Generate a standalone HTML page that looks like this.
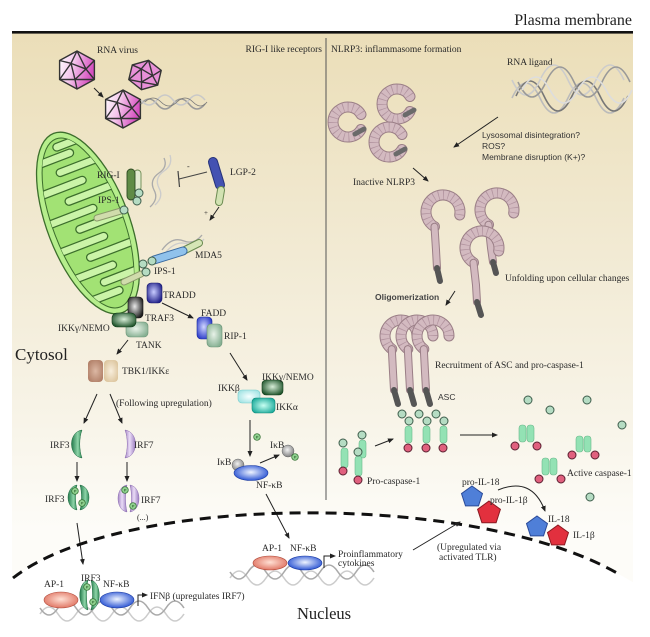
<!DOCTYPE html>
<html><head><meta charset="utf-8"><style>
html,body{margin:0;padding:0;background:#fff;}
svg{display:block;}
text{font-family:"Liberation Serif",serif;fill:#2a2a2a;font-size:9.5px;}
.s{font-family:"Liberation Sans",sans-serif;font-size:8.5px;fill:#333;}
.ar{stroke:#222;stroke-width:1;fill:none;marker-end:url(#ah);}
.nlo{fill:none;stroke:#9a7e86;stroke-width:11;stroke-linecap:round;}
.nli{fill:none;stroke:#d3bac0;stroke-width:9;stroke-linecap:round;}
.nld{fill:none;stroke:#b395a0;stroke-width:9;stroke-dasharray:0.8 4;}
.sto{fill:none;stroke:#9a7e86;stroke-width:8;stroke-linecap:round;stroke-linejoin:round;}
.sti{fill:none;stroke:#d3bac0;stroke-width:6;stroke-linecap:round;stroke-linejoin:round;}
.tail{stroke:#555;stroke-width:6;stroke-linecap:round;}
.gc{fill:#b5dcc3;stroke:#3d5c4a;stroke-width:1;}
.rc{fill:#e0607e;stroke:#5a2030;stroke-width:1;}
.bar{fill:#93e2b4;stroke:#6ab88a;stroke-width:0.6;}
.pc{fill:#8fd08f;stroke:#2a6a2a;stroke-width:0.7;}
.pt{font-family:"Liberation Sans",sans-serif;font-size:4px;fill:#1a4a1a;}
.dna{fill:none;stroke:#aaa;stroke-width:1.6;}
.dna2{fill:none;stroke:#ccc;stroke-width:1.6;}
</style></head><body>
<svg width="650" height="637" viewBox="0 0 650 637" xmlns="http://www.w3.org/2000/svg">
<defs>
<marker id="ah" markerWidth="6" markerHeight="6" refX="5" refY="3" orient="auto" markerUnits="userSpaceOnUse"><path d="M0,0.5 L6,3 L0,5.5 z" fill="#222"/></marker>
<linearGradient id="bg" x1="0" y1="32" x2="0" y2="530" gradientUnits="userSpaceOnUse">
<stop offset="0" stop-color="#ebdeb8"/><stop offset="0.4" stop-color="#f1e9d1"/><stop offset="0.75" stop-color="#f7f3e6"/><stop offset="1" stop-color="#fdfcf8"/></linearGradient>
<radialGradient id="gNavy" cx="0.45" cy="0.45" r="0.6"><stop offset="0" stop-color="#c8ccff"/><stop offset="1" stop-color="#22228a"/></radialGradient>
<radialGradient id="gBlack" cx="0.45" cy="0.45" r="0.6"><stop offset="0" stop-color="#e8e8e8"/><stop offset="1" stop-color="#1e1e1e"/></radialGradient>
<radialGradient id="gDk" cx="0.5" cy="0.45" r="0.6"><stop offset="0" stop-color="#d8eed8"/><stop offset="1" stop-color="#1c5228"/></radialGradient>
<radialGradient id="gLt" cx="0.45" cy="0.45" r="0.6"><stop offset="0" stop-color="#e8f2e8"/><stop offset="1" stop-color="#86b092"/></radialGradient>
<radialGradient id="gBlue" cx="0.45" cy="0.45" r="0.6"><stop offset="0" stop-color="#d0d6ff"/><stop offset="1" stop-color="#2838c8"/></radialGradient>
<radialGradient id="gCy" cx="0.5" cy="0.5" r="0.6"><stop offset="0" stop-color="#f6ffff"/><stop offset="1" stop-color="#9ee2e2"/></radialGradient>
<radialGradient id="gTeal" cx="0.5" cy="0.5" r="0.6"><stop offset="0" stop-color="#c8fff2"/><stop offset="1" stop-color="#17a898"/></radialGradient>
<radialGradient id="gSal" cx="0.5" cy="0.45" r="0.6"><stop offset="0" stop-color="#ffe0d4"/><stop offset="1" stop-color="#de6e5c"/></radialGradient>
<radialGradient id="gNF" cx="0.5" cy="0.45" r="0.6"><stop offset="0" stop-color="#eef4ff"/><stop offset="1" stop-color="#1c48d0"/></radialGradient>
<radialGradient id="gGray" cx="0.45" cy="0.4" r="0.6"><stop offset="0" stop-color="#f2f2f2"/><stop offset="1" stop-color="#808080"/></radialGradient>
<radialGradient id="gBrown" cx="0.5" cy="0.5" r="0.6"><stop offset="0" stop-color="#dcb8a4"/><stop offset="1" stop-color="#b07e66"/></radialGradient>
<radialGradient id="gBeige" cx="0.5" cy="0.5" r="0.6"><stop offset="0" stop-color="#f8eedc"/><stop offset="1" stop-color="#dcc49c"/></radialGradient>
<linearGradient id="gIrf3" x1="0" y1="0" x2="1" y2="0"><stop offset="0" stop-color="#237a4c"/><stop offset="0.6" stop-color="#8ed4a8"/><stop offset="1" stop-color="#2f8a58"/></linearGradient>
<linearGradient id="gIrf7" x1="0" y1="0" x2="1" y2="0"><stop offset="0" stop-color="#a486c4"/><stop offset="0.45" stop-color="#eadcf6"/><stop offset="1" stop-color="#9a7cc0"/></linearGradient>
<linearGradient id="gVir" x1="0" y1="0" x2="1" y2="0.3"><stop offset="0" stop-color="#ffffff"/><stop offset="0.45" stop-color="#f4c8ec"/><stop offset="1" stop-color="#d650c0"/></linearGradient>
<clipPath id="mclip"><ellipse cx="0" cy="0" rx="35" ry="90"/></clipPath>
</defs>

<!-- background panel -->
<rect x="12" y="32" width="621" height="605" fill="url(#bg)"/>
<path d="M0 637 L0 578 L13 578 C120 494 470 490 617 573 L650 592 L650 637 Z" fill="#ffffff"/>
<rect x="12" y="31" width="621" height="2.6" fill="#111"/>
<line x1="326" y1="38" x2="326" y2="500" stroke="#555" stroke-width="1"/>
<text x="632" y="25" text-anchor="end" style="font-size:16px;fill:#222">Plasma membrane</text>

<!-- viruses -->
<g stroke="#333" stroke-width="1.4" stroke-linejoin="round">
<g transform="translate(77,70) scale(20,19)">
<polygon points="0,-1 0.87,-0.5 0.87,0.5 0,1 -0.87,0.5 -0.87,-0.5" fill="url(#gVir)" vector-effect="non-scaling-stroke"/>
<path d="M-0.3,-0.35 L0.45,-0.05 L-0.1,0.5 Z M0,-1 L-0.3,-0.35 M0,-1 L0.45,-0.05 M0.87,-0.5 L0.45,-0.05 M0.87,0.5 L0.45,-0.05 M0.87,0.5 L-0.1,0.5 M0,1 L-0.1,0.5 M-0.87,0.5 L-0.1,0.5 M-0.87,0.5 L-0.3,-0.35 M-0.87,-0.5 L-0.3,-0.35" fill="none" vector-effect="non-scaling-stroke"/>
</g>
<g transform="translate(145,75) scale(17,15) rotate(12)">
<polygon points="0,-1 0.87,-0.5 0.87,0.5 0,1 -0.87,0.5 -0.87,-0.5" fill="#e890d8" vector-effect="non-scaling-stroke"/>
<path d="M-0.3,-0.35 L0.45,-0.05 L-0.1,0.5 Z M0,-1 L-0.3,-0.35 M0,-1 L0.45,-0.05 M0.87,-0.5 L0.45,-0.05 M0.87,0.5 L0.45,-0.05 M0.87,0.5 L-0.1,0.5 M0,1 L-0.1,0.5 M-0.87,0.5 L-0.1,0.5 M-0.87,0.5 L-0.3,-0.35 M-0.87,-0.5 L-0.3,-0.35" fill="none" vector-effect="non-scaling-stroke"/>
</g>
<g transform="translate(123,109) scale(20,19)">
<polygon points="0,-1 0.87,-0.5 0.87,0.5 0,1 -0.87,0.5 -0.87,-0.5" fill="url(#gVir)" vector-effect="non-scaling-stroke"/>
<path d="M-0.3,-0.35 L0.45,-0.05 L-0.1,0.5 Z M0,-1 L-0.3,-0.35 M0,-1 L0.45,-0.05 M0.87,-0.5 L0.45,-0.05 M0.87,0.5 L0.45,-0.05 M0.87,0.5 L-0.1,0.5 M0,1 L-0.1,0.5 M-0.87,0.5 L-0.1,0.5 M-0.87,0.5 L-0.3,-0.35 M-0.87,-0.5 L-0.3,-0.35" fill="none" vector-effect="non-scaling-stroke"/>
</g>
</g>
<line class="ar" x1="94" y1="88" x2="103" y2="97"/>
<path d="M141 104 q8 -10 16 0 t16 0 t16 0 t16 0" fill="none" stroke="#999" stroke-width="1.5"/>
<path d="M141 100 q8 10 16 0 t16 0 t16 0 t16 0" fill="none" stroke="#c8c8c8" stroke-width="1.5"/>
<path d="M145 102 q8 -8 16 0 t16 0 t16 0 t14 0" fill="none" stroke="#777" stroke-width="0.8"/>
<text x="97" y="53">RNA virus</text>
<text x="322" y="52" text-anchor="end">RIG-I like receptors</text>

<!-- mitochondrion -->
<g transform="translate(88,223) rotate(-21)">
<ellipse cx="0" cy="0" rx="41" ry="96" fill="#b6ee8c" stroke="#3c6e2c" stroke-width="1.3"/>
<ellipse cx="0" cy="0" rx="35" ry="90" fill="#a2e274" stroke="#3c6e2c" stroke-width="1"/>
<g clip-path="url(#mclip)">
<g stroke="#3c6e2c" stroke-width="9" stroke-linecap="round" fill="none">
<path d="M-45 -72 L8 -72 M-45 -42 L10 -42 M-45 -12 L10 -12 M-45 18 L10 18 M-45 48 L8 48 M-45 74 L5 74"/>
<path d="M45 -57 L-8 -57 M45 -27 L-10 -27 M45 3 L-10 3 M45 33 L-10 33 M45 61 L-6 61 M45 -82 L-2 -82"/>
</g>
<g stroke="#cbf4a8" stroke-width="6.5" stroke-linecap="round" fill="none">
<path d="M-45 -72 L8 -72 M-45 -42 L10 -42 M-45 -12 L10 -12 M-45 18 L10 18 M-45 48 L8 48 M-45 74 L5 74"/>
<path d="M45 -57 L-8 -57 M45 -27 L-10 -27 M45 3 L-10 3 M45 33 L-10 33 M45 61 L-6 61 M45 -82 L-2 -82"/>
</g>
</g>
</g>

<!-- RIG-I -->
<path d="M150 207 q9 -8 4 -17 q-5 -10 5 -17 q9 -6 5 -15" fill="none" stroke="#aaa" stroke-width="1.3"/>
<path d="M155 205 q9 -8 4 -17 q-5 -10 5 -17 q9 -6 6 -16" fill="none" stroke="#ccc" stroke-width="1.3"/>
<rect x="134" y="170" width="7" height="21" rx="3.5" fill="#e2ead0" stroke="#6a8a50" stroke-width="0.9"/>
<rect x="127" y="169" width="8" height="31" rx="4" fill="#5f8b46" stroke="#2e4a22" stroke-width="0.9"/>
<circle class="gc" cx="139" cy="193" r="4"/>
<circle class="gc" cx="137" cy="201" r="4"/>
<line x1="97" y1="218" x2="121" y2="211" stroke="#8a9a6a" stroke-width="7" stroke-linecap="round"/>
<line x1="97" y1="218" x2="121" y2="211" stroke="#d0dcac" stroke-width="5" stroke-linecap="round"/>
<circle class="gc" cx="124" cy="210" r="4"/>
<text x="97" y="178">RIG-I</text>
<text x="98" y="203">IPS-1</text>
<!-- inhibition -->
<line x1="207" y1="172" x2="179" y2="179" stroke="#444" stroke-width="1"/>
<line x1="178" y1="171" x2="179.5" y2="187" stroke="#444" stroke-width="1.2"/>
<text x="187" y="169" style="font-size:8px">-</text>
<!-- LGP-2 -->
<line x1="213" y1="162" x2="220" y2="185" stroke="#26337a" stroke-width="10" stroke-linecap="round"/>
<line x1="213" y1="162" x2="220" y2="185" stroke="#4452b2" stroke-width="8" stroke-linecap="round"/>
<line x1="221" y1="190" x2="219" y2="202" stroke="#6a8a50" stroke-width="8" stroke-linecap="round"/>
<line x1="221" y1="190" x2="219" y2="202" stroke="#d2e2b2" stroke-width="6" stroke-linecap="round"/>
<line class="ar" x1="219" y1="207" x2="210" y2="220"/>
<text x="204" y="215" style="font-size:7px">+</text>
<text x="230" y="175">LGP-2</text>
<!-- MDA5 -->
<path d="M162 250 q10 -14 22 -9 q10 4 18 -6" fill="none" stroke="#aaa" stroke-width="1.3"/>
<path d="M166 252 q10 -12 22 -8 q10 3 16 -5" fill="none" stroke="#ccc" stroke-width="1.3"/>
<line x1="185" y1="250" x2="199" y2="243" stroke="#6a8a50" stroke-width="8" stroke-linecap="round"/>
<line x1="185" y1="250" x2="199" y2="243" stroke="#d6e6b6" stroke-width="6" stroke-linecap="round"/>
<line x1="154" y1="260" x2="183" y2="251" stroke="#3a6aa0" stroke-width="9" stroke-linecap="round"/>
<line x1="154" y1="260" x2="183" y2="251" stroke="#90c2ec" stroke-width="7" stroke-linecap="round"/>
<text x="195" y="258">MDA5</text>
<line x1="124" y1="282" x2="141" y2="274" stroke="#8a9a6a" stroke-width="7" stroke-linecap="round"/>
<line x1="124" y1="282" x2="141" y2="274" stroke="#d0dcac" stroke-width="5" stroke-linecap="round"/>
<circle class="gc" cx="143" cy="264" r="4"/>
<circle class="gc" cx="152" cy="261" r="4"/>
<circle class="gc" cx="146" cy="272" r="4"/>
<text x="154" y="274">IPS-1</text>

<!-- adaptor complex -->
<rect x="147" y="283" width="15" height="20" rx="4" fill="url(#gNavy)" stroke="#1a1a6a" stroke-width="0.6"/>
<text x="163" y="298">TRADD</text>
<rect x="128" y="297" width="15" height="21" rx="4" fill="url(#gBlack)" stroke="#111" stroke-width="0.6"/>
<text x="145" y="321">TRAF3</text>
<rect x="126" y="322" width="22" height="15" rx="4" fill="url(#gLt)" stroke="#6a9276" stroke-width="0.6"/>
<rect x="112" y="313" width="24" height="14" rx="5" fill="url(#gDk)" stroke="#123a1a" stroke-width="0.6"/>
<text x="58" y="331">IKKγ/NEMO</text>
<text x="136" y="348">TANK</text>
<line class="ar" x1="162" y1="303" x2="193" y2="318"/>
<rect x="197" y="317" width="15" height="22" rx="4" fill="url(#gBlue)" stroke="#1a2a9a" stroke-width="0.6"/>
<rect x="207" y="324" width="15" height="23" rx="4" fill="url(#gLt)" stroke="#6a9276" stroke-width="0.6"/>
<text x="201" y="316">FADD</text>
<text x="224" y="339">RIP-1</text>
<text x="15" y="360" style="font-size:17px;fill:#222">Cytosol</text>
<line class="ar" x1="128" y1="340" x2="117" y2="354"/>
<rect x="88" y="360" width="15" height="22" rx="4" fill="url(#gBrown)"/>
<rect x="104" y="360" width="14" height="22" rx="4" fill="url(#gBeige)"/>
<text x="122" y="374">TBK1/IKKε</text>
<line class="ar" x1="230" y1="353" x2="247" y2="380"/>
<rect x="238" y="390" width="22" height="13" rx="4" fill="url(#gCy)" stroke="#7cc" stroke-width="0.6"/>
<rect x="262" y="380" width="21" height="15" rx="4" fill="url(#gDk)" stroke="#123a1a" stroke-width="0.6"/>
<rect x="252" y="398" width="23" height="15" rx="4" fill="url(#gTeal)" stroke="#108878" stroke-width="0.6"/>
<text x="262" y="380">IKKγ/NEMO</text>
<text x="218" y="391">IKKβ</text>
<text x="276" y="410">IKKα</text>

<!-- IRFs -->
<line class="ar" x1="97" y1="394" x2="84" y2="423"/>
<line class="ar" x1="110" y1="394" x2="122" y2="423"/>
<text x="116" y="406">(Following upregulation)</text>
<path d="M82 430 C68 432 68 456 82 458 C79 450 79 438 82 430 Z" fill="url(#gIrf3)" stroke="#1e6a40" stroke-width="0.5"/>
<path d="M125 430 C139 432 139 456 125 458 C128 450 128 438 125 430 Z" fill="url(#gIrf7)" stroke="#8a6ab0" stroke-width="0.5"/>
<text x="50" y="448">IRF3</text>
<text x="134" y="448">IRF7</text>
<line class="ar" x1="77" y1="462" x2="77" y2="481"/>
<line class="ar" x1="127" y1="462" x2="127" y2="481"/>
<path d="M77 485 C65 487 65 508 77 510 C75 503 75 492 77 485 Z" fill="url(#gIrf3)" stroke="#1e6a40" stroke-width="0.5"/>
<path d="M80 485 C92 487 92 508 80 510 C82 503 82 492 80 485 Z" fill="url(#gIrf3)" stroke="#1e6a40" stroke-width="0.5"/>
<circle class="pc" cx="75" cy="491" r="3.3"/><text class="pt" x="73.7" y="492.5">P</text>
<circle class="pc" cx="82" cy="503" r="3.3"/><text class="pt" x="80.7" y="504.5">P</text>
<path d="M127 485 C115 487 115 510 127 512 C125 504 125 493 127 485 Z" fill="url(#gIrf7)" stroke="#8a6ab0" stroke-width="0.5"/>
<path d="M130 485 C142 487 142 510 130 512 C132 504 132 493 130 485 Z" fill="url(#gIrf7)" stroke="#8a6ab0" stroke-width="0.5"/>
<circle class="pc" cx="125" cy="490" r="3.3"/><text class="pt" x="123.7" y="491.5">P</text>
<circle class="pc" cx="133" cy="506" r="3.3"/><text class="pt" x="131.7" y="507.5">P</text>
<text x="45" y="502">IRF3</text>
<text x="141" y="503">IRF7</text>
<text x="137" y="520" style="font-size:8px">(...)</text>
<line class="ar" x1="77" y1="523" x2="83" y2="564"/>

<!-- IkB / NF-kB -->
<line class="ar" x1="250" y1="420" x2="250" y2="456"/>
<circle class="pc" cx="257" cy="437" r="3.3"/><text class="pt" x="255.7" y="438.5">P</text>
<text x="270" y="448">IκB</text>
<circle cx="288" cy="451" r="6" fill="url(#gGray)" stroke="#666" stroke-width="0.5"/>
<circle class="pc" cx="295" cy="457" r="3.3"/><text class="pt" x="293.7" y="458.5">P</text>
<line class="ar" x1="260" y1="463" x2="279" y2="455"/>
<circle cx="238" cy="465" r="6" fill="url(#gGray)" stroke="#666" stroke-width="0.5"/>
<ellipse cx="251" cy="473" rx="17" ry="7.5" fill="url(#gNF)" stroke="#1a3aa0" stroke-width="0.6"/>
<text x="217" y="465">IκB</text>
<text x="256" y="488">NF-κB</text>
<line class="ar" x1="266" y1="494" x2="289" y2="538"/>

<!-- nucleus membrane -->
<path d="M13 578 C120 494 470 490 617 573" fill="none" stroke="#111" stroke-width="3" stroke-dasharray="11 7"/>
<text x="297" y="619" style="font-size:16.5px;fill:#222">Nucleus</text>

<!-- nuclear complex 1 -->
<path class="dna2" d="M40 614 q9 -14 18 0 t18 0 t18 0 t18 0 t18 0 t18 0 t18 0 t18 0"/>
<path class="dna" d="M40 608 q9 14 18 0 t18 0 t18 0 t18 0 t18 0 t18 0 t18 0 t18 0"/>
<ellipse cx="61" cy="600" rx="17" ry="8" fill="url(#gSal)" stroke="#b04a3a" stroke-width="0.6"/>
<path d="M88 580 C77 583 77 607 88 610 C86 602 86 588 88 580 Z" fill="url(#gIrf3)" stroke="#1e6a40" stroke-width="0.5"/>
<path d="M91 580 C102 583 102 607 91 610 C93 602 93 588 91 580 Z" fill="url(#gIrf3)" stroke="#1e6a40" stroke-width="0.5"/>
<circle class="pc" cx="87" cy="587" r="3.3"/><text class="pt" x="85.7" y="588.5">P</text>
<circle class="pc" cx="93" cy="602" r="3.3"/><text class="pt" x="91.7" y="603.5">P</text>
<ellipse cx="117" cy="600" rx="17" ry="8" fill="url(#gNF)" stroke="#1a3aa0" stroke-width="0.6"/>
<path d="M138 606 L138 595 L147 595" fill="none" stroke="#222" stroke-width="1" marker-end="url(#ah)"/>
<text x="44" y="587">AP-1</text>
<text x="81" y="581">IRF3</text>
<text x="103" y="587">NF-κB</text>
<text x="150" y="599">IFNβ (upregulates IRF7)</text>

<!-- nuclear complex 2 -->
<path class="dna2" d="M230 578 q9 -14 18 0 t18 0 t18 0 t18 0 t18 0 t18 0 t18 0 t18 0"/>
<path class="dna" d="M230 572 q9 14 18 0 t18 0 t18 0 t18 0 t18 0 t18 0 t18 0 t18 0"/>
<ellipse cx="270" cy="563" rx="17" ry="7" fill="url(#gSal)" stroke="#b04a3a" stroke-width="0.6"/>
<ellipse cx="305" cy="563" rx="17" ry="7" fill="url(#gNF)" stroke="#1a3aa0" stroke-width="0.6"/>
<path d="M324 568 L324 556 L335 556" fill="none" stroke="#222" stroke-width="1" marker-end="url(#ah)"/>
<text x="262" y="551">AP-1</text>
<text x="290" y="551">NF-κB</text>
<text x="338" y="557">Proinflammatory</text>
<text x="338" y="566">cytokines</text>

<!-- right panel -->
<text x="331" y="52">NLRP3: inflammasome formation</text>
<text x="507" y="65">RNA ligand</text>
<g fill="none" stroke-width="1.6">
<path d="M512 98 q14 -30 28 0 t28 0 t28 0 t28 0" stroke="#bbb"/>
<path d="M516 96 q14 -30 28 0 t28 0 t28 0 t28 0" stroke="#777"/>
<path d="M512 80 q14 30 28 0 t28 0 t28 0 t28 0" stroke="#ccc"/>
<path d="M518 82 q14 30 28 0 t28 0 t28 0 t28 0" stroke="#999"/>
<path d="M522 90 q14 -26 28 0 t28 0 t28 0 t26 0" stroke="#ddd"/>
</g>
<line class="ar" x1="498" y1="117" x2="454" y2="147"/>
<text class="s" x="482" y="138">Lysosomal disintegration?</text>
<text class="s" x="482" y="149">ROS?</text>
<text class="s" x="482" y="160">Membrane disruption (K+)?</text>

<!-- inactive rings -->
<g>
<path class="nlo" d="M361 129.5 A15 15 0 1 1 361 114.5"/><path class="nli" d="M361 129.5 A15 15 0 1 1 361 114.5"/><path class="nld" d="M361 129.5 A15 15 0 1 1 361 114.5"/>
<line class="tail" x1="355" y1="134" x2="364" y2="129" style="stroke:#6a6a6a;stroke-width:5"/>
<path class="nlo" d="M410 111.5 A15 15 0 1 1 410 96.5"/><path class="nli" d="M410 111.5 A15 15 0 1 1 410 96.5"/><path class="nld" d="M410 111.5 A15 15 0 1 1 410 96.5"/>
<line class="tail" x1="405" y1="115" x2="414" y2="110" style="stroke:#6a6a6a;stroke-width:5"/>
<path class="nlo" d="M402 149.5 A15 15 0 1 1 402 134.5"/><path class="nli" d="M402 149.5 A15 15 0 1 1 402 134.5"/><path class="nld" d="M402 149.5 A15 15 0 1 1 402 134.5"/>
<line class="tail" x1="396" y1="154" x2="405" y2="149" style="stroke:#6a6a6a;stroke-width:5"/>
</g>
<text x="353" y="185">Inactive NLRP3</text>
<line class="ar" x1="413" y1="168" x2="428" y2="181"/>

<!-- unfolding -->
<g>
<path class="nlo" d="M459.7 215 A17 17 0 1 0 434.5 226.7"/><path class="nli" d="M459.7 215 A17 17 0 1 0 434.5 226.7"/><path class="nld" d="M459.7 215 A17 17 0 1 0 434.5 226.7"/>
<path class="sto" d="M434.5 226.7 L436 250 L437 268"/><path class="sti" d="M434.5 226.7 L436 250 L437 268"/>
<line class="tail" x1="437" y1="268" x2="440" y2="281"/>
<path class="nlo" d="M513.7 213 A17 17 0 1 0 488.5 224.7"/><path class="nli" d="M513.7 213 A17 17 0 1 0 488.5 224.7"/><path class="nld" d="M513.7 213 A17 17 0 1 0 488.5 224.7"/>
<path class="sto" d="M488.5 224.7 L491 248 L493 262"/><path class="sti" d="M488.5 224.7 L491 248 L493 262"/>
<line class="tail" x1="493" y1="262" x2="496" y2="273"/>
<path class="nlo" d="M498.7 251 A17 17 0 1 0 473.5 262.7"/><path class="nli" d="M498.7 251 A17 17 0 1 0 473.5 262.7"/><path class="nld" d="M498.7 251 A17 17 0 1 0 473.5 262.7"/>
<path class="sto" d="M473.5 262.7 L476 285 L477 302"/><path class="sti" d="M473.5 262.7 L476 285 L477 302"/>
<line class="tail" x1="477" y1="302" x2="481" y2="315"/>
</g>
<text x="505" y="281">Unfolding upon cellular changes</text>
<text class="s" x="375" y="300" style="font-weight:bold;fill:#444">Oligomerization</text>
<line class="ar" x1="455" y1="291" x2="446" y2="305"/>

<!-- oligomer -->
<g>
<path class="nlo" d="M417 336 A16 16 0 1 0 391.8 349.1"/><path class="nli" d="M417 336 A16 16 0 1 0 391.8 349.1"/><path class="nld" d="M417 336 A16 16 0 1 0 391.8 349.1"/>
<path class="sto" d="M391.8 349.1 L393 372 L394 390"/><path class="sti" d="M391.8 349.1 L393 372 L394 390"/>
<line class="tail" x1="394" y1="390" x2="398" y2="404"/>
<path class="nlo" d="M433 336 A16 16 0 1 0 407.8 349.1"/><path class="nli" d="M433 336 A16 16 0 1 0 407.8 349.1"/><path class="nld" d="M433 336 A16 16 0 1 0 407.8 349.1"/>
<path class="sto" d="M407.8 349.1 L409 372 L410 390"/><path class="sti" d="M407.8 349.1 L409 372 L410 390"/>
<line class="tail" x1="410" y1="390" x2="414" y2="404"/>
<path class="nlo" d="M449 336 A16 16 0 1 0 423.8 349.1"/><path class="nli" d="M449 336 A16 16 0 1 0 423.8 349.1"/><path class="nld" d="M449 336 A16 16 0 1 0 423.8 349.1"/>
<path class="sto" d="M423.8 349.1 L425 372 L426 390"/><path class="sti" d="M423.8 349.1 L425 372 L426 390"/>
<line class="tail" x1="426" y1="390" x2="430" y2="404"/>
</g>
<text x="435" y="368">Recruitment of ASC and pro-caspase-1</text>
<text class="s" x="438" y="400">ASC</text>
<circle class="gc" cx="402" cy="414" r="4"/><circle class="gc" cx="419" cy="414" r="4"/><circle class="gc" cx="436" cy="414" r="4"/>
<circle class="gc" cx="409" cy="421" r="4"/><circle class="gc" cx="427" cy="421" r="4"/><circle class="gc" cx="444" cy="421" r="4"/>
<rect class="bar" x="405" y="426" width="7" height="17" rx="3"/>
<rect class="bar" x="423" y="426" width="7" height="17" rx="3"/>
<rect class="bar" x="440" y="426" width="7" height="17" rx="3"/>
<circle class="rc" cx="408" cy="448" r="4"/><circle class="rc" cx="426" cy="448" r="4"/><circle class="rc" cx="443" cy="448" r="4"/>

<!-- pro-caspase-1 -->
<rect class="bar" x="359" y="440" width="7" height="18" rx="3"/>
<circle class="gc" cx="362" cy="435" r="4"/>
<rect class="bar" x="341" y="448" width="7" height="20" rx="3"/>
<circle class="gc" cx="343" cy="443" r="4"/>
<circle class="rc" cx="343" cy="471" r="4"/>
<rect class="bar" x="355" y="456" width="7" height="20" rx="3"/>
<circle class="gc" cx="358" cy="452" r="4"/>
<circle class="rc" cx="358" cy="480" r="4"/>
<text x="367" y="484">Pro-caspase-1</text>
<line class="ar" x1="375" y1="446" x2="393" y2="439"/>
<line class="ar" x1="460" y1="435" x2="497" y2="435"/>

<!-- free ASC -->
<circle class="gc" cx="528" cy="400" r="4"/><circle class="gc" cx="550" cy="410" r="4"/><circle class="gc" cx="587" cy="400" r="4"/>
<circle class="gc" cx="622" cy="425" r="4"/><circle class="gc" cx="590" cy="497" r="4"/>

<!-- active caspase -->
<rect class="bar" x="519" y="425" width="7" height="17" rx="3"/><rect class="bar" x="527" y="425" width="7" height="17" rx="3"/>
<circle class="rc" cx="515" cy="446" r="4"/><circle class="rc" cx="537" cy="446" r="4"/>
<rect class="bar" x="576" y="436" width="7" height="16" rx="3"/><rect class="bar" x="584" y="436" width="7" height="16" rx="3"/>
<circle class="rc" cx="572" cy="455" r="4"/><circle class="rc" cx="595" cy="455" r="4"/>
<rect class="bar" x="542" y="458" width="7" height="17" rx="3"/><rect class="bar" x="550" y="458" width="7" height="17" rx="3"/>
<circle class="rc" cx="539" cy="479" r="4"/><circle class="rc" cx="561" cy="479" r="4"/>
<text x="567" y="476">Active caspase-1</text>

<!-- cytokines -->
<polygon points="472,486 482.5,493.6 478.5,505.9 465.5,505.9 461.5,493.6" fill="#4f7fd8" stroke="#2a4a98" stroke-width="1"/>
<polygon points="489,501 500.4,509.3 496.1,522.7 481.9,522.7 477.6,509.3" fill="#e2303e" stroke="#8a1a22" stroke-width="1"/>
<text x="462" y="485">pro-IL-18</text>
<text x="490" y="503">pro-IL-1β</text>
<path d="M498 490 Q532 476 545 511" fill="none" stroke="#222" stroke-width="1" marker-end="url(#ah)"/>
<polygon points="537,516 547.5,523.6 543.5,535.9 530.5,535.9 526.5,523.6" fill="#4f7fd8" stroke="#2a4a98" stroke-width="1"/>
<polygon points="558,525 568.5,532.6 564.5,544.9 551.5,544.9 547.5,532.6" fill="#e2303e" stroke="#8a1a22" stroke-width="1"/>
<text x="548" y="522">IL-18</text>
<text x="573" y="538">IL-1β</text>
<line class="ar" x1="413" y1="550" x2="460" y2="522"/>
<text x="437" y="550">(Upregulated via</text>
<text x="439" y="560">activated TLR)</text>
</svg>
</body></html>
